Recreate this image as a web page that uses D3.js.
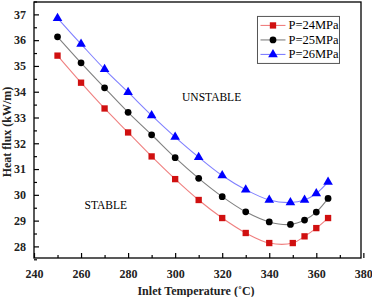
<!DOCTYPE html>
<html>
<head>
<meta charset="utf-8">
<script src="https://cdn.jsdelivr.net/npm/d3@7"></script>
<style>
  body { margin: 0; background: #fff; }
  text { font-family: "Liberation Serif", "DejaVu Serif", serif; }
</style>
</head>
<body>
<div id="chart"></div>
<script>
// Heat flux vs inlet temperature, three pressures

const temps24 = [250, 260, 270, 280, 290, 300, 310, 320, 330, 340, 350, 355, 360, 365];
const flux24 = [35.4, 34.35, 33.35, 32.42, 31.49, 30.61, 29.8, 29.1, 28.52, 28.13, 28.13, 28.39, 28.71, 29.1];

const temps25 = [250, 260, 270, 280, 290, 300, 310, 320, 330, 340, 349, 355, 360, 365];
const flux25 = [36.13, 35.12, 34.15, 33.2, 32.33, 31.44, 30.64, 29.93, 29.34, 28.95, 28.85, 29.02, 29.33, 29.86];

const temps26 = [250, 260, 270, 280, 290, 300, 310, 320, 330, 340, 349, 355, 360, 365];
const flux26 = [36.85, 35.85, 34.87, 33.98, 33.08, 32.24, 31.46, 30.75, 30.2, 29.8, 29.7, 29.8, 30.05, 30.5];

const seriesNames = ["P=24MPa", "P=25MPa", "P=26MPa"];
const xTicks = [240, 260, 280, 300, 320, 340, 360, 380];
const yTicks = [28, 29, 30, 31, 32, 33, 34, 35, 36, 37];

const width = 372, height = 297;
const margin = {top: 2, right: 11, bottom: 39, left: 34};
const w = width - margin.left - margin.right,
      h = height - margin.top - margin.bottom;

const series = [
    {name: seriesNames[0], x: temps24, y: flux24, line: "#f08080", fill: "#d01010", shape: d3.symbolSquare, size: 40},
    {name: seriesNames[1], x: temps25, y: flux25, line: "#808080", fill: "#000000", shape: d3.symbolCircle, size: 36},
    {name: seriesNames[2], x: temps26, y: flux26, line: "#8080ff", fill: "#0000ff", shape: d3.symbolTriangle, size: 40}
];

const svg = d3.select("#chart").append("svg")
    .attr("width", width)
    .attr("height", height);

const g = svg.append("g")
    .attr("transform", `translate(${margin.left},${margin.top})`);

const x = d3.scaleLinear().domain([240, 379]).range([0, w]);
const y = d3.scaleLinear().domain([27.55, 37.48]).range([h, 0]);

// Frame
g.append("rect")
    .attr("width", w).attr("height", h)
    .attr("fill", "none").attr("stroke", "#000").attr("stroke-width", 1.3);

// X axis with inward ticks
const xAxis = g.append("g")
    .attr("transform", `translate(0,${h})`)
    .call(d3.axisBottom(x).tickValues(xTicks).tickSize(-5).tickPadding(11));
xAxis.select(".domain").remove();
xAxis.selectAll("text").style("font-size", "12px").style("font-weight", "bold").attr("fill", "#222");

g.append("g")
    .attr("transform", `translate(0,${h})`)
    .call(d3.axisBottom(x).tickValues(d3.range(250, 380, 20)).tickSize(-3).tickFormat(""))
    .select(".domain").remove();

// Y axis with inward ticks
const yAxis = g.append("g")
    .call(d3.axisLeft(y).tickValues(yTicks).tickSize(-5).tickPadding(8));
yAxis.select(".domain").remove();
yAxis.selectAll("text").style("font-size", "12px").style("font-weight", "bold").attr("fill", "#222");

g.append("g")
    .call(d3.axisLeft(y).tickValues(d3.range(27.5, 37.6, 1)).tickSize(-3).tickFormat(""))
    .select(".domain").remove();

g.selectAll(".tick line").attr("stroke", "#000").attr("stroke-width", 1.2);

// Axis titles
svg.append("text")
    .attr("x", 196).attr("y", 295)
    .attr("text-anchor", "middle")
    .style("font-size", "12px").style("font-weight", "bold")
    .attr("fill", "#222")
    .text("Inlet Temperature (\u02daC)");

svg.append("text")
    .attr("transform", "translate(11,132) rotate(-90)")
    .attr("text-anchor", "middle")
    .style("font-size", "12px").style("font-weight", "bold")
    .attr("fill", "#222")
    .text("Heat flux (kW/m)");

// Region labels
g.append("text")
    .attr("x", x(315.5)).attr("y", y(33.65))
    .attr("text-anchor", "middle")
    .style("font-size", "11.5px")
    .text("UNSTABLE");

g.append("text")
    .attr("x", x(270.5)).attr("y", y(29.45))
    .attr("text-anchor", "middle")
    .style("font-size", "11.5px")
    .text("STABLE");

// Lines and markers
const line = d3.line().curve(d3.curveCatmullRom);

series.forEach(s => {
    const pts = s.x.map((v, i) => [x(v), y(s.y[i])]);
    g.append("path")
        .attr("d", line(pts))
        .attr("fill", "none")
        .attr("stroke", s.line)
        .attr("stroke-width", 1.1);
    g.selectAll(null)
        .data(pts)
        .enter().append("path")
        .attr("transform", d => `translate(${d[0]},${d[1]})`)
        .attr("d", d3.symbol().type(s.shape).size(s.size))
        .attr("fill", s.fill);
});

// Legend
const legend = g.append("g").attr("transform", `translate(${x(335)},${y(36.92)})`);
legend.append("rect")
    .attr("width", 82).attr("height", 47)
    .attr("fill", "#fff").attr("stroke", "#555").attr("stroke-width", 1);

series.forEach((s, i) => {
    const ly = 9 + i * 14.5;
    legend.append("line")
        .attr("x1", 3).attr("x2", 28).attr("y1", ly).attr("y2", ly)
        .attr("stroke", s.line).attr("stroke-width", 1.1);
    legend.append("path")
        .attr("transform", `translate(15.5,${ly})`)
        .attr("d", d3.symbol().type(s.shape).size(s.size))
        .attr("fill", s.fill);
    legend.append("text")
        .attr("x", 31).attr("y", ly + 4)
        .style("font-size", "12.5px")
        .text(s.name);
});
</script>
</body>
</html>
